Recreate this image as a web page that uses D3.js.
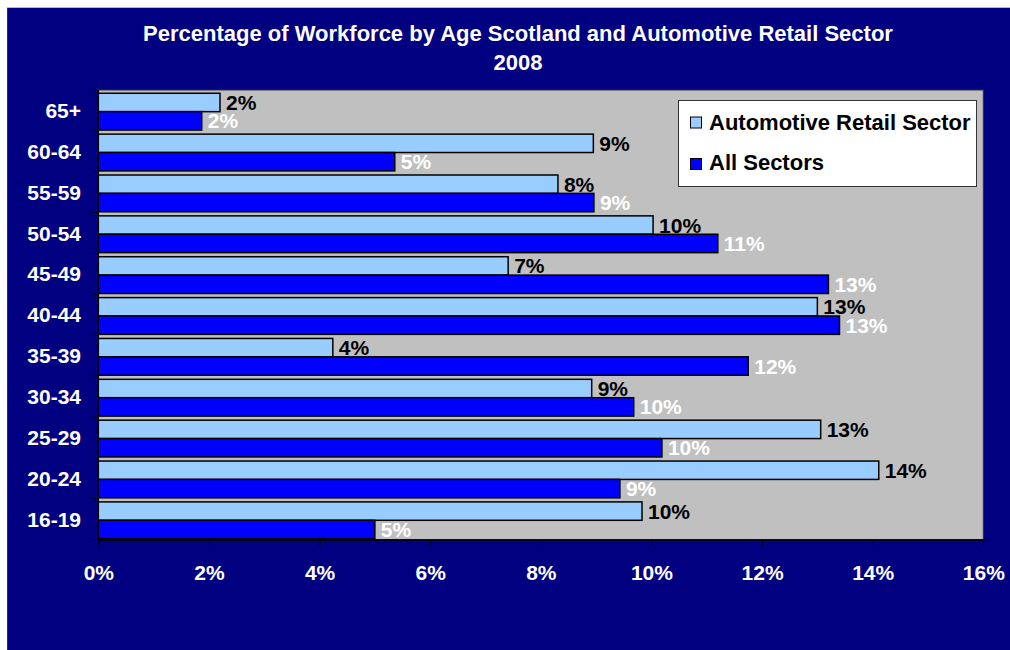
<!DOCTYPE html>
<html>
<head>
<meta charset="utf-8">
<script src="https://cdn.jsdelivr.net/npm/d3@7"></script>
<style>
  html, body { margin: 0; padding: 0; background: #ffffff; }
  svg { display: block; }
  text { font-family: "Liberation Sans", Arial, sans-serif; font-weight: bold; }
</style>
</head>
<body>
<svg id="chart" width="1010" height="650"></svg>
<script>
// Age bands, listed top to bottom as drawn
const ageBands = ["65+", "60-64", "55-59", "50-54", "45-49", "40-44", "35-39", "30-34", "25-29", "20-24", "16-19"];
// Share of workforce in each age band
const automotiveRetail = [0.022, 0.0895, 0.0831, 0.1003, 0.0741, 0.130, 0.0424, 0.0892, 0.1306, 0.1411, 0.0983];
const allSectors       = [0.0187, 0.0536, 0.0896, 0.112, 0.132, 0.134, 0.1175, 0.0968, 0.1019, 0.0943, 0.050];
const seriesNames = ["Automotive Retail Sector", "All Sectors"];
const xTicks = [0, 0.02, 0.04, 0.06, 0.08, 0.10, 0.12, 0.14, 0.16];
const titleLines = ["Percentage of Workforce by Age Scotland and Automotive Retail Sector", "2008"];

const W = 1010, H = 650;
const plot = { left: 98.3, right: 983.3, top: 90, bottom: 539.5 };
const colors = ["#99CCFF", "#0000FF"];
const labelColors = ["#000000", "#ffffff"];
const pct = d3.format(".0%");

const svg = d3.select("#chart");

// Navy backdrop
svg.append("rect").attr("x", 7).attr("y", 7).attr("width", W - 7).attr("height", H - 7).attr("fill", "#000080");
svg.append("line").attr("x1", 7.5).attr("x2", 7.5).attr("y1", 7).attr("y2", H).attr("stroke", "#333").attr("stroke-width", 1);
svg.append("line").attr("x1", 7).attr("x2", W).attr("y1", 7.5).attr("y2", 7.5).attr("stroke", "#bbbbbb").attr("stroke-width", 1);

// Title
svg.append("g").selectAll("text").data(titleLines).join("text")
  .attr("x", 518).attr("y", (d, i) => 41 + i * 29)
  .attr("text-anchor", "middle").attr("fill", "#ffffff").attr("font-size", 22)
  .text(d => d);

// Scales
const x = d3.scaleLinear().domain([0, 0.16]).range([plot.left, plot.right]);
const y = d3.scaleBand().domain(ageBands).range([plot.top, plot.bottom])
  .paddingInner(0.1).paddingOuter(0.05).align(0.8);
const ySeries = d3.scaleBand().domain([0, 1]).range([0, y.bandwidth()]);
const step = y.step();
const bandStart = i => plot.top + i * step;

// Plot area
svg.append("rect")
  .attr("x", plot.left).attr("y", plot.top)
  .attr("width", plot.right - plot.left).attr("height", plot.bottom - plot.top)
  .attr("fill", "#C0C0C0").attr("stroke", "#333").attr("stroke-width", 1);

const rows = ageBands.map((a, i) => ({ age: a, values: [automotiveRetail[i], allSectors[i]] }));

// Bars
const groups = svg.append("g").selectAll("g").data(rows).join("g")
  .attr("transform", d => `translate(0,${y(d.age)})`);
groups.selectAll("rect").data(d => d.values.map((v, s) => ({ v, s }))).join("rect")
  .attr("x", x(0)).attr("y", d => ySeries(d.s))
  .attr("width", d => x(d.v) - x(0)).attr("height", ySeries.bandwidth())
  .attr("fill", d => colors[d.s]).attr("stroke", "#000").attr("stroke-width", 1.5);

// Value labels
const labels = svg.append("g");
rows.forEach(r => {
  r.values.forEach((v, s) => {
    labels.append("text")
      .attr("x", x(v) + 6)
      .attr("y", y(r.age) + ySeries(s) + ySeries.bandwidth() / 2 + 7.5)
      .attr("fill", labelColors[s]).attr("font-size", 21)
      .text(pct(v));
  });
});

// X axis
const xAxis = svg.append("g").attr("transform", `translate(0,${plot.bottom})`)
  .call(d3.axisBottom(x).tickValues(xTicks).tickFormat(pct).tickSize(6).tickSizeOuter(0));
xAxis.select(".domain").attr("stroke", "#000").attr("stroke-width", 1.5);
xAxis.selectAll(".tick line").attr("stroke", "#000");
xAxis.selectAll(".tick text").attr("fill", "#fff").attr("font-size", 21)
  .attr("y", 40.5).attr("dy", null)
  .attr("font-family", "'Liberation Sans', Arial, sans-serif").attr("font-weight", "bold");

// Y axis: line, ticks at band boundaries, category labels at band centres
svg.append("line").attr("x1", plot.left).attr("x2", plot.left)
  .attr("y1", plot.top).attr("y2", plot.bottom).attr("stroke", "#000").attr("stroke-width", 1.5);
svg.append("g").selectAll("line").data(d3.range(ageBands.length + 1)).join("line")
  .attr("x1", plot.left - 6).attr("x2", plot.left)
  .attr("y1", i => bandStart(i)).attr("y2", i => bandStart(i))
  .attr("stroke", "#000").attr("stroke-width", 1);
svg.append("g").selectAll("text").data(ageBands).join("text")
  .attr("x", 81).attr("y", (d, i) => bandStart(i) + step / 2 + 7.5)
  .attr("text-anchor", "end").attr("fill", "#fff").attr("font-size", 21)
  .text(d => d);

// Legend
const legend = svg.append("g");
legend.append("rect").attr("x", 678.5).attr("y", 100.5).attr("width", 298).attr("height", 86)
  .attr("fill", "#fff").attr("stroke", "#333").attr("stroke-width", 1);
seriesNames.forEach((name, s) => {
  legend.append("rect").attr("x", 690.5).attr("y", 117 + s * 41.5).attr("width", 11).attr("height", 11)
    .attr("fill", colors[s]).attr("stroke", "#000").attr("stroke-width", 1);
  legend.append("text").attr("x", 709).attr("y", 129.5 + s * 40)
    .attr("fill", "#000").attr("font-size", 22).text(name);
});
</script>
</body>
</html>
